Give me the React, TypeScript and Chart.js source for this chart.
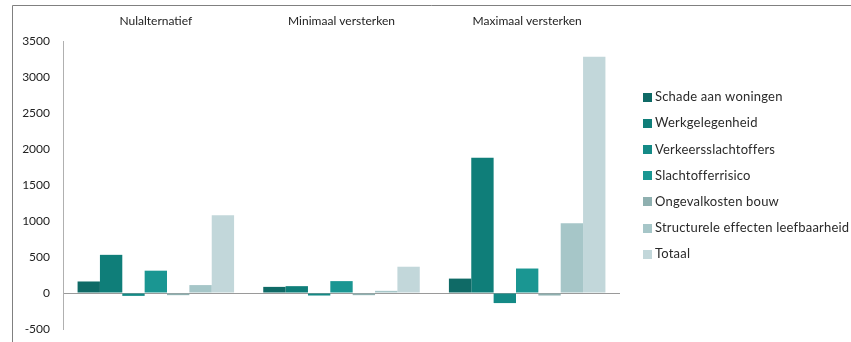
import React, { useEffect, useRef } from "react";
import { Chart, registerables } from "chart.js";

Chart.register(...registerables);

const scenarios = ["Nulalternatief", "Minimaal versterken", "Maximaal versterken"];

const seriesNames = [
  "Schade aan woningen",
  "Werkgelegenheid",
  "Verkeersslachtoffers",
  "Slachtofferrisico",
  "Ongevalkosten bouw",
  "Structurele effecten leefbaarheid",
  "Totaal",
];

const schadeAanWoningen = [160, 85, 200];
const werkgelegenheid = [530, 95, 1880];
const verkeersslachtoffers = [-40, -35, -140];
const slachtofferrisico = [310, 165, 340];
const ongevalkostenBouw = [-30, -30, -35];
const structureleEffecten = [110, 30, 970];
const totaal = [1080, 365, 3280];

const seriesValues = [
  schadeAanWoningen,
  werkgelegenheid,
  verkeersslachtoffers,
  slachtofferrisico,
  ongevalkostenBouw,
  structureleEffecten,
  totaal,
];

const seriesColors = ["#0f6a66", "#0f7e79", "#148a86", "#1a9692", "#8fb0b0", "#a6c6c8", "#c2d7da"];

const yTicks = [-500, 0, 500, 1000, 1500, 2000, 2500, 3000, 3500];

const FONT = "Lato, 'Open Sans', sans-serif";

// Outer frame of the chart box
const framePlugin = {
  id: "frame",
  afterDraw(chart: any) {
    const ctx = chart.ctx;
    ctx.save();
    ctx.strokeStyle = "#808080";
    ctx.lineWidth = 1;
    ctx.beginPath();
    ctx.moveTo(12.5, chart.height);
    ctx.lineTo(12.5, 5.5);
    ctx.lineTo(chart.width, 5.5);
    ctx.stroke();
    ctx.restore();
  },
};

// Legend column on the right, built from the datasets
const sideLegendPlugin = {
  id: "sideLegend",
  afterDraw(chart: any) {
    const ctx = chart.ctx;
    const x = 643;
    const y0 = 97;
    const step = 26.2;
    const box = 9;
    ctx.save();
    ctx.font = `13px ${FONT}`;
    (ctx as any).letterSpacing = "0.2px";
    ctx.textBaseline = "middle";
    ctx.textAlign = "left";
    chart.data.datasets.forEach((ds: any, i: number) => {
      const y = y0 + i * step;
      ctx.fillStyle = ds.backgroundColor;
      ctx.fillRect(x, Math.round(y - box / 2), box, box);
      ctx.fillStyle = "#2a2a2a";
      ctx.fillText(ds.label, x + 12, y);
    });
    ctx.restore();
  },
};

export default function App() {
  const canvasRef = useRef<HTMLCanvasElement>(null);

  useEffect(() => {
    if (!canvasRef.current) return;
    const chart = new Chart(canvasRef.current, {
      type: "bar",
      data: {
        labels: scenarios,
        datasets: seriesNames.map((name, i) => ({
          label: name,
          data: seriesValues[i],
          backgroundColor: seriesColors[i],
          borderWidth: 0,
          categoryPercentage: 0.843,
          barPercentage: 1.0,
          xAxisID: "x",
        })),
      },
      options: {
        responsive: false,
        animation: false,
        layout: { padding: { left: 0, right: 231, top: 0, bottom: 13 } },
        plugins: {
          legend: { display: false },
          tooltip: { enabled: false },
        },
        scales: {
          x: {
            type: "category",
            position: "bottom",
            display: false,
            grid: { display: false },
          },
          xTop: {
            type: "category",
            position: "top",
            labels: scenarios,
            grid: { display: false, drawTicks: false },
            border: { display: false },
            ticks: {
              color: "#222",
              font: { family: FONT, size: 12 },
              padding: 13,
              maxRotation: 0,
              autoSkip: false,
            },
            afterFit(scale: any) {
              scale.height = 41;
            },
          },
          y: {
            min: -500,
            max: 3500,
            afterBuildTicks(scale: any) {
              scale.ticks = yTicks.map((v) => ({ value: v }));
            },
            grid: {
              drawTicks: false,
              color: (c: any) => (c.tick && c.tick.value === 0 ? "#9a9a9a" : "rgba(0,0,0,0)"),
              lineWidth: 1,
            },
            border: { display: true, color: "#b0b0b0", width: 1 },
            ticks: {
              color: "#222",
              font: { family: FONT, size: 12 },
              padding: 13,
              callback: (v: any) => String(v),
            },
            afterFit(scale: any) {
              scale.width = 63;
              scale.paddingTop = 0;
              scale.paddingBottom = 0;
            },
          },
        },
      },
      plugins: [framePlugin, sideLegendPlugin],
    });
    return () => chart.destroy();
  }, []);

  return (
    <div style={{ position: "absolute", left: 0, top: 0, width: 851, height: 342, background: "#fff" }}>
      <canvas ref={canvasRef} width={851} height={342} style={{ display: "block" }} />
    </div>
  );
}
